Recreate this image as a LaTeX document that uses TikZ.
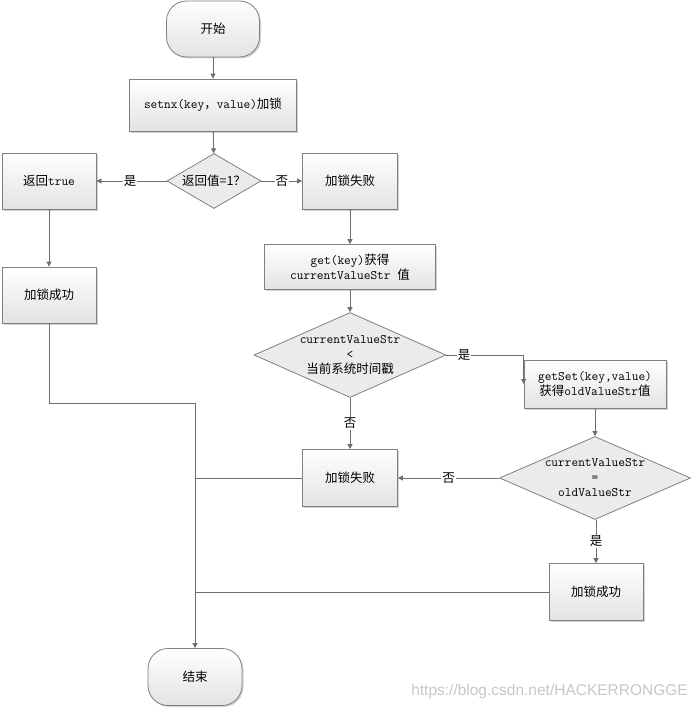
\documentclass[tikz,border=0pt]{standalone}
\usepackage{fontspec}
\newfontfamily\cjk{Noto Sans CJK SC}
\newfontfamily\wmfont{Liberation Sans}
\usetikzlibrary{shapes.geometric,arrows.meta,shadows,calc}
\definecolor{linec}{HTML}{6E6E6E}
\definecolor{bordc}{HTML}{808080}
\definecolor{diaf}{HTML}{EBEBEB}
\newcommand{\fs}{\ttfamily\fontsize{13}{15}\selectfont}
\newcommand{\cn}[1]{{\cjk\fontsize{12.5}{15}\selectfont #1}}
\tikzset{
  box/.style={rectangle, draw=bordc, line width=0.8pt, top color=white, bottom color=black!11,
    drop shadow={shadow xshift=1.5pt, shadow yshift=-1.5pt, fill=black!35, opacity=0.5},
    inner sep=0pt, align=center, font=\fs},
  term/.style={box, rounded corners=20pt},
  dia/.style={diamond, draw=bordc, line width=0.8pt, fill=diaf, inner sep=0pt},
  dtext/.style={font=\fs, align=center, inner sep=0pt},
  arr/.style={draw=linec, line width=0.8pt, -{Triangle[length=5pt,width=5pt]}},
  conn/.style={draw=linec, line width=0.8pt},
  lab/.style={fill=white, inner sep=1pt, font=\cjk\fontsize{12.5}{15}\selectfont},
}
\begin{document}
\begin{tikzpicture}[x=1pt,y=-1pt]
\useasboundingbox (0,0) rectangle (694,709);
\node[term, minimum width=93pt, minimum height=56pt] (start) at (213,29) {\cn{开始}};
\node[box, minimum width=167pt, minimum height=52pt] (setnx) at (213,105) {setnx(key\cn{，}value)\cn{加锁}};
\node[dia, minimum width=94pt, minimum height=55pt,
      label={[dtext]center:{\cn{返回值=1？}}}] (d1) at (214,181) {};
\node[box, minimum width=94pt, minimum height=56pt] (rt) at (49,181) {\cn{返回}true};
\node[box, minimum width=95pt, minimum height=56pt] (fail1) at (350,181) {\cn{加锁失败}};
\node[box, minimum width=94pt, minimum height=56pt] (ok1) at (49,295) {\cn{加锁成功}};
\node[box, minimum width=171pt, minimum height=45pt] (get) at (350,267) {get(key)\cn{获得}\\currentValueStr \cn{值}};
\node[dia, minimum width=192pt, minimum height=85pt,
      label={[dtext]center:{currentValueStr\\<\\\cn{当前系统时间戳}}}] (d2) at (350,355) {};
\node[box, minimum width=142pt, minimum height=48pt] (gs) at (595,384) {getSet(key,value)\\\cn{获得}oldValueStr\cn{值}};
\node[box, minimum width=95pt, minimum height=57pt] (fail2) at (350,478) {\cn{加锁失败}};
\node[dia, minimum width=191pt, minimum height=83pt,
      label={[dtext]center:{currentValueStr\\=\\oldValueStr}}] (d3) at (595,478) {};
\node[box, minimum width=94pt, minimum height=57pt] (ok2) at (596,592) {\cn{加锁成功}};
\node[term, minimum width=94pt, minimum height=57pt] (end) at (195,677) {\cn{结束}};
\node[anchor=east, text=black!22, inner sep=0pt, font=\wmfont\fontsize{15.5}{16}\selectfont] (wm) at (688,691) {https://blog.csdn.net/HACKERRONGGE};

\coordinate (m1) at (195,403);

\draw[arr] (start) -- (setnx);
\draw[arr] (setnx) -- (d1);
\draw[arr] (d1.west) -- node[lab, pos=0.52] {是} (rt.east);
\draw[arr] (d1.east) -- node[lab] {否} (fail1.west);
\draw[arr] (rt) -- (ok1);
\draw[arr] (fail1) -- (get);
\draw[arr] (get) -- (d2);
\draw[arr] (d2.east) -- node[lab, pos=0.23] {是} (d2.east -| gs.west) -- (gs.west);
\draw[arr] (d2.south) -- node[lab] {否} (fail2.north);
\draw[arr] (gs.south) -- (d3.north);
\draw[arr] (d3.west) -- node[lab] {否} (fail2.east);
\draw[arr] (d3.south -| ok2.north) -- node[lab] {是} (ok2.north);
\draw[arr] (ok1.south) |- (m1) -- (end.north);
\draw[conn] (fail2.west) -- (fail2.west -| end.north);
\draw[conn] (ok2.west) -- (ok2.west -| end.north);
\end{tikzpicture}
\end{document}
